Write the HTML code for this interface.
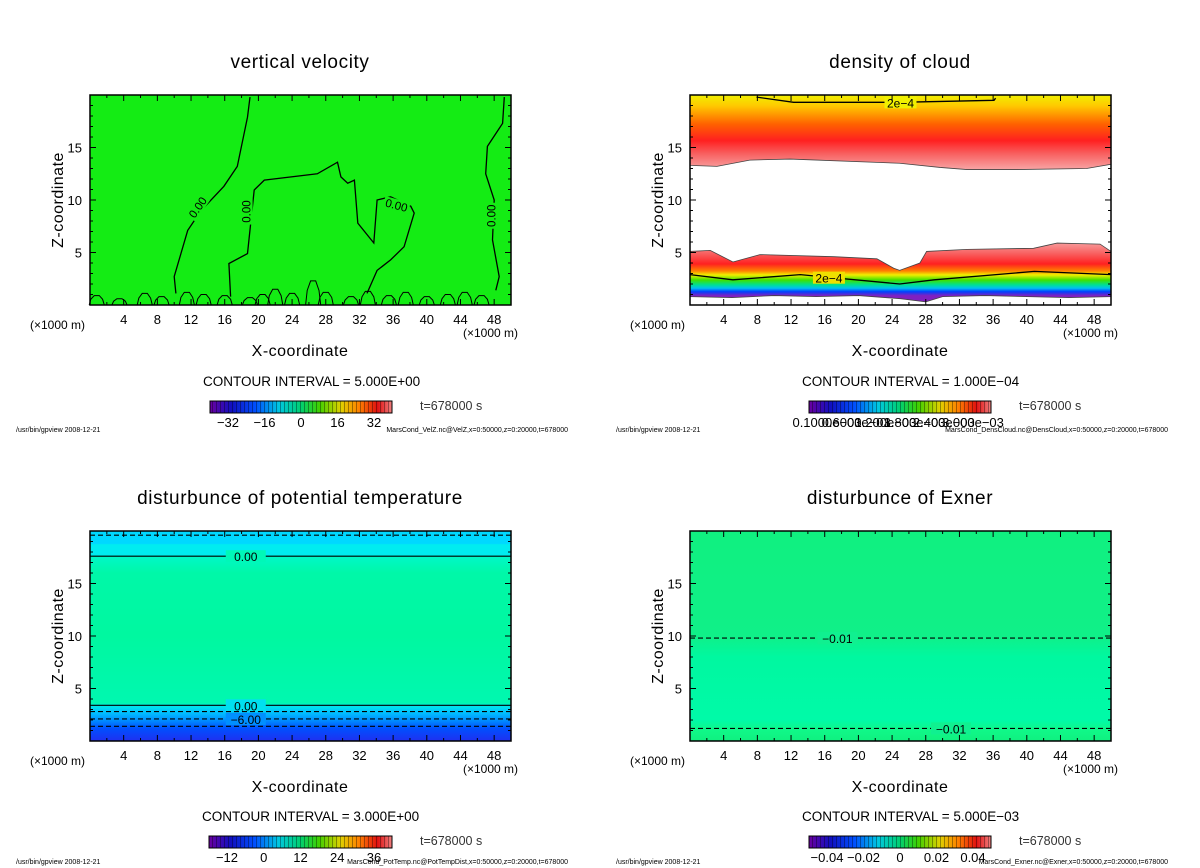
<!DOCTYPE html>
<html><head><meta charset="utf-8">
<style>
html,body{margin:0;padding:0;background:#fff;}
svg{display:block;font-family:"Liberation Sans",sans-serif;}
</style></head>
<body>
<svg id="s" width="1200" height="868" viewBox="0 0 1200 868">
<defs>
<linearGradient id="rainbow" x1="0" x2="1" y1="0" y2="0">
<stop offset="0" stop-color="#6a00a0"/><stop offset="0.12" stop-color="#1010c0"/><stop offset="0.25" stop-color="#0050ff"/>
<stop offset="0.38" stop-color="#00c8e0"/><stop offset="0.5" stop-color="#00d070"/><stop offset="0.6" stop-color="#40d000"/>
<stop offset="0.72" stop-color="#e0d000"/><stop offset="0.82" stop-color="#ff8000"/><stop offset="0.92" stop-color="#e01010"/><stop offset="1" stop-color="#f08080"/>
</linearGradient>
<pattern id="stripes" width="4" height="20" patternUnits="userSpaceOnUse"><rect x="0" y="0" width="1" height="20" fill="rgba(0,0,0,0.35)"/></pattern>
</defs>
</svg>
<script>
// ---- data ----
const xTicks=[4,8,12,16,20,24,28,32,36,40,44,48];
const zTicks=[5,10,15];
const velCA_x=[19.0,18.7,17.5,15.9,13.2,11.6,10.0,10.2];
const velCA_z=[19.8,17.9,13.2,11.3,9.0,7.1,2.7,1.1];
const velCB_x=[16.7,16.5,18.7,19.5,20.7,27.0,29.4,29.8,30.6,31.4,31.8,33.7,34.1,35.7,38.1,38.5,37.3,35.7,34.1,32.9];
const velCB_z=[0.8,3.95,4.9,10.95,11.9,12.5,13.6,12.2,11.6,11.9,7.8,5.9,10.0,10.3,9.4,8.75,5.55,4.3,3.3,1.1];
const velCC_x=[49.2,49.0,47.2,47.0,48.0,47.8,48.6,48.2];
const velCC_z=[19.8,17.3,15.1,12.5,10.0,6.2,2.7,1.4];
const velBumpX=[0.8,3.5,6.5,8.5,11.5,13.5,16.0,19.0,20.5,22.0,24.0,26.5,28.0,31.0,33.0,35.5,37.5,40.0,42.5,44.5,46.5];
const velBumpH=[0.9,0.6,1.1,0.8,1.2,1.0,0.9,0.7,1.0,1.5,1.1,2.3,1.2,0.8,1.3,0.9,1.2,0.8,1.0,1.2,0.9];
const cldUpX=[0,3.2,7.1,11.9,24.9,29.7,32.9,38.8,47.1,50];
const cldUpZ=[13.3,13.2,13.8,13.9,13.5,13.1,12.9,12.9,13.0,13.4];
const cldLoX=[0,2.4,5.1,8.3,17.1,22.2,24.2,24.9,27.3,28.1,32.9,40.8,43.6,48.7,50];
const cldLoZ=[5.1,5.2,4.1,4.8,4.6,4.4,3.5,3.3,4.0,5.1,5.3,5.4,5.9,5.8,5.1];
const cldC1X=[0,5.1,13.1,24.9,29.0,40.9,50];
const cldC1Z=[2.9,2.4,2.9,2.0,2.4,3.2,2.9];
const cldC2X=[7.9,12.3,24.9,36.1,36.3];
const cldC2Z=[19.8,19.3,19.3,19.5,19.7];
const cldBotX=[0,5,10,15,20,25,28,30,35,40,45,50];
const cldBotZ=[0.8,0.7,0.9,0.8,0.9,0.6,0.3,0.8,0.9,0.8,0.7,0.8];
const ptLevels=[19.6,17.6,3.4,2.8,2.1,1.4];
const ptDashed=[true,false,false,true,true,true];
const ptLabels=["","0.00","0.00","","-6.00",""];
const exLevels=[9.8,1.2];
const exLabels=["-0.01","-0.01"];
const exLabelX=[17.5,31];
const cb1=["-32","-16","0","16","32"];
const cb2=["0.1000e-03","0.6000e-03","1.200e-03","1.800e-03","2.400e-03","3.000e-03"];
const cb3=["-12","0","12","24","36"];
const cb4=["-0.04","-0.02","0","0.02","0.04"];

const svg=document.getElementById('s');
const NS='http://www.w3.org/2000/svg';
function mk(tag,attrs,parent){const e=document.createElementNS(NS,tag);for(const k in attrs)e.setAttribute(k,attrs[k]);(parent||svg).appendChild(e);return e;}
function txt(x,y,s,size,anchor,parent,extra){const t=mk('text',Object.assign({x:x,y:y,'font-size':size,'text-anchor':anchor||'middle',fill:'#000'},extra||{}),parent);t.textContent=s;return t;}

function panel(ox,oy,title){
  const P={x0:ox,y0:oy,w:421,h:210};
  P.sx=v=>ox+v/50*421;
  P.sy=v=>oy+210-v/20*210;
  const g=mk('g',{});
  
  
  P.g=g;
  const t=txt(ox+210,oy-27,title,19,'middle',g,{'letter-spacing':'0.6'});
  
  
  P.plot=mk('g',{},g);
  return P;
}
function frame(P){
  const g=P.g;
  const ax=mk('g',{stroke:'#000','stroke-width':1},g);
  
  
  for(let v=2;v<50;v+=2){const L=v%4===0?6:3;
    mk('line',{x1:P.sx(v),x2:P.sx(v),y1:P.y0+P.h,y2:P.y0+P.h-L},ax);
    mk('line',{x1:P.sx(v),x2:P.sx(v),y1:P.y0,y2:P.y0+L},ax);}
  for(let v=1;v<20;v++){const L=v%5===0?6:3;
    mk('line',{x1:P.x0,x2:P.x0+L,y1:P.sy(v),y2:P.sy(v)},ax);
    mk('line',{x1:P.x0+P.w,x2:P.x0+P.w-L,y1:P.sy(v),y2:P.sy(v)},ax);}
  mk('rect',{x:P.x0,y:P.y0,width:P.w,height:P.h,fill:'none',stroke:'#000','stroke-width':1.5},ax);
  xTicks.forEach(v=>{const t=txt(P.sx(v),P.y0+P.h+19,String(v),13,'middle',g);
    
    });
  zTicks.forEach(v=>{const t=txt(P.x0-8,P.sy(v)+5,String(v),13,'end',g);
    
    });
  let t=txt(P.x0-60,P.y0+P.h+24,'(×1000 m)',12,'start',g);
  
  
  t=txt(P.x0+P.w+7,P.y0+P.h+32,'(×1000 m)',12,'end',g);
  
  
  t=txt(P.x0+210,P.y0+P.h+51,'X-coordinate',16,'middle',g,{'letter-spacing':'0.5'});
  
  
  t=txt(0,0,'Z-coordinate',16,'middle',g,{transform:`translate(${P.x0-27},${P.y0+105}) rotate(-90)`,'letter-spacing':'0.5'});
  
  
}
function poly(P,xs,zs,parent,attrs){
  const pts=xs.map((x,i)=>P.sx(x).toFixed(1)+','+P.sy(zs[i]).toFixed(1)).join(' ');
  return mk('polyline',Object.assign({points:pts,fill:'none',stroke:'#000','stroke-width':1.3},attrs||{}),parent);
}
function legend(cx,oy,interval,labels,barX0,barX1,footY,footR){
  const g=mk('g',{});
  
  
  let t=txt(barX0-7,oy,'CONTOUR INTERVAL = '+interval,13.5,'start',g);
  
  
  const r=mk('rect',{x:barX0,y:oy+15,width:barX1-barX0,height:12,fill:'url(#rainbow)',stroke:'#000','stroke-width':1},g);
  
  
  mk('rect',{x:barX0,y:oy+15,width:barX1-barX0,height:12,fill:'url(#stripes)'},g);
  const n=labels.length;
  labels.forEach((s,i)=>{const x=barX0+18+i*(barX1-barX0-36)/(n-1);
    const tt=txt(x,oy+41,s.replace('-','−'),13,'middle',g);
    
    });
  t=txt(barX1+28,oy+24,'t=678000  s',12.5,'start',g,{fill:'#333'});
  
  
  t=txt(cx-284,footY,'/usr/bin/gpview   2008-12-21',7,'start',g);
  
  
  t=txt(cx+268,footY,footR,7,'end',g);
  
  
}

// ---- Panel 1 ----
let P=panel(90,95,'vertical velocity');
mk('rect',{x:P.x0,y:P.y0,width:P.w,height:P.h,fill:'#14ec14'},P.plot);
[[velCA_x,velCA_z],[velCB_x,velCB_z],[velCC_x,velCC_z]].forEach(([a,b])=>{const l=poly(P,a,b,P.plot);
  
  });
velBumpX.forEach((x,i)=>{const h=velBumpH[i];
  const l=poly(P,[x-0.9,x-0.7,x-0.3,x+0.3,x+0.7,x+0.9],[0,h*0.6,h,h,h*0.6,0],P.plot,{'stroke-width':1});
  
  });
[[12.8,9.3,-55],[18.6,8.9,-90],[36.4,9.5,15],[47.7,8.5,-90]].forEach(([x,z,r])=>{
  mk('rect',{x:P.sx(x)-13,y:P.sy(z)-6,width:26,height:12,fill:'#14ec14',transform:`rotate(${r} ${P.sx(x)} ${P.sy(z)})`},P.plot);
  const t=txt(P.sx(x),P.sy(z)+4,'0.00',11.5,'middle',P.plot,{transform:`rotate(${r} ${P.sx(x)} ${P.sy(z)})`});
  
  });
frame(P);
legend(300,386,'5.000E+00',cb1,210,392,432,'MarsCond_VelZ.nc@VelZ,x=0:50000,z=0:20000,t=678000');

// ---- Panel 2 ----
P=panel(690,95,'density of cloud');
let gr=mk('linearGradient',{id:'gUp',gradientUnits:'userSpaceOnUse',x1:0,x2:0,y1:P.sy(20),y2:P.sy(13)},svg.querySelector('defs'));
[[0,'#f0f000'],[0.15,'#ffc800'],[0.4,'#ff6000'],[0.62,'#ff2020'],[0.8,'#f86060'],[1,'#f8a0a0']].forEach(([o,c])=>mk('stop',{offset:o,'stop-color':c},gr));
gr=mk('linearGradient',{id:'gLo',gradientUnits:'userSpaceOnUse',x1:0,x2:0,y1:P.sy(6),y2:P.sy(0.5)},svg.querySelector('defs'));
[[0,'#f8a0a0'],[0.2,'#f86060'],[0.38,'#ff2020'],[0.5,'#ff8000'],[0.57,'#f0f000'],[0.66,'#40e000'],[0.74,'#00e090'],[0.8,'#00c0f0'],[0.86,'#0040ff'],[0.93,'#8020c0'],[1,'#8020c0']].forEach(([o,c])=>mk('stop',{offset:o,'stop-color':c},gr));
let pth=mk('path',{d:`M${P.sx(0)},${P.sy(20)} L${P.sx(50)},${P.sy(20)} L`+cldUpX.slice().reverse().map((x,i)=>P.sx(x)+','+P.sy(cldUpZ[cldUpX.length-1-i])).join(' L')+'Z',fill:'url(#gUp)',stroke:'#444','stroke-width':0.8},P.plot);


let lo='M'+cldLoX.map((x,i)=>P.sx(x)+','+P.sy(cldLoZ[i])).join(' L')+' L'+cldBotX.slice().reverse().map((x,i)=>P.sx(x)+','+P.sy(cldBotZ[cldBotX.length-1-i])).join(' L')+'Z';
pth=mk('path',{d:lo,fill:'url(#gLo)',stroke:'#444','stroke-width':0.8},P.plot);


[[cldC1X,cldC1Z],[cldC2X,cldC2Z]].forEach(([a,b])=>{const l=poly(P,a,b,P.plot);
  
  });
[[16.5,2.6,'#f0e000'],[25.0,19.3,'#f0f000']].forEach(([x,z,c])=>{
  mk('rect',{x:P.sx(x)-16,y:P.sy(z)-6,width:32,height:12,fill:c},P.plot);
  const t=txt(P.sx(x),P.sy(z)+5,'2e−4',12,'middle',P.plot);
  
  });
frame(P);
legend(900,386,'1.000E−04',cb2,809,991,432,'MarsCond_DensCloud.nc@DensCloud,x=0:50000,z=0:20000,t=678000');

// ---- Panel 3 ----
P=panel(90,531,'disturbunce of potential temperature');
gr=mk('linearGradient',{id:'gPt',gradientUnits:'userSpaceOnUse',x1:0,x2:0,y1:P.sy(20),y2:P.sy(0)},svg.querySelector('defs'));
[[0,'#00d8ff'],[0.06,'#00d8ff'],[0.065,'#00ecf0'],[0.115,'#00ecf0'],[0.12,'#00f8c8'],[0.2,'#00f8a8'],[0.5,'#00f8a0'],[0.82,'#00f8b0'],[0.83,'#00e8e8'],[0.86,'#00c8ff'],[0.9,'#0090ff'],[0.94,'#0050ff'],[1,'#2030f0']].forEach(([o,c])=>mk('stop',{offset:o,'stop-color':c},gr));
pth=mk('rect',{x:P.x0,y:P.y0,width:P.w,height:P.h,fill:'url(#gPt)'},P.plot);


ptLevels.forEach((z,i)=>{
  const l=mk('line',{x1:P.x0,x2:P.x0+P.w,y1:P.sy(z),y2:P.sy(z),stroke:'#000','stroke-width':1.1,'stroke-dasharray':ptDashed[i]?'5,3':'none'},P.plot);
  
  
  if(ptLabels[i]){mk('rect',{x:P.sx(18.5)-20,y:P.sy(z)-6,width:40,height:12,fill:i<2?'#00f8b8':(i===2?'#00e0f0':'#0090ff')},P.plot);
    const t=txt(P.sx(18.5),P.sy(z)+5,ptLabels[i].replace('-','−'),12,'middle',P.plot);
    
    }
});
frame(P);
legend(300,821,'3.000E+00',cb3,209,392,864,'MarsCond_PotTemp.nc@PotTempDist,x=0:50000,z=0:20000,t=678000');

// ---- Panel 4 ----
P=panel(690,531,'disturbunce of Exner');
gr=mk('linearGradient',{id:'gEx',gradientUnits:'userSpaceOnUse',x1:0,x2:0,y1:P.sy(20),y2:P.sy(0)},svg.querySelector('defs'));
[[0,'#10f080'],[0.5,'#10f088'],[0.6,'#00f8a0'],[0.9,'#00faa8'],[0.95,'#10f888'],[1,'#10f080']].forEach(([o,c])=>mk('stop',{offset:o,'stop-color':c},gr));
pth=mk('rect',{x:P.x0,y:P.y0,width:P.w,height:P.h,fill:'url(#gEx)'},P.plot);


exLevels.forEach((z,i)=>{
  const l=mk('line',{x1:P.x0,x2:P.x0+P.w,y1:P.sy(z),y2:P.sy(z),stroke:'#000','stroke-width':1.1,'stroke-dasharray':'5,3'},P.plot);
  
  
  mk('rect',{x:P.sx(exLabelX[i])-20,y:P.sy(z)-6,width:40,height:12,fill:'#10f090'},P.plot);
  const t=txt(P.sx(exLabelX[i]),P.sy(z)+5,exLabels[i].replace('-','−'),12,'middle',P.plot);
  
  
});
frame(P);
legend(900,821,'5.000E−03',cb4,809,991,864,'MarsCond_Exner.nc@Exner,x=0:50000,z=0:20000,t=678000');
</script>
</body></html>
